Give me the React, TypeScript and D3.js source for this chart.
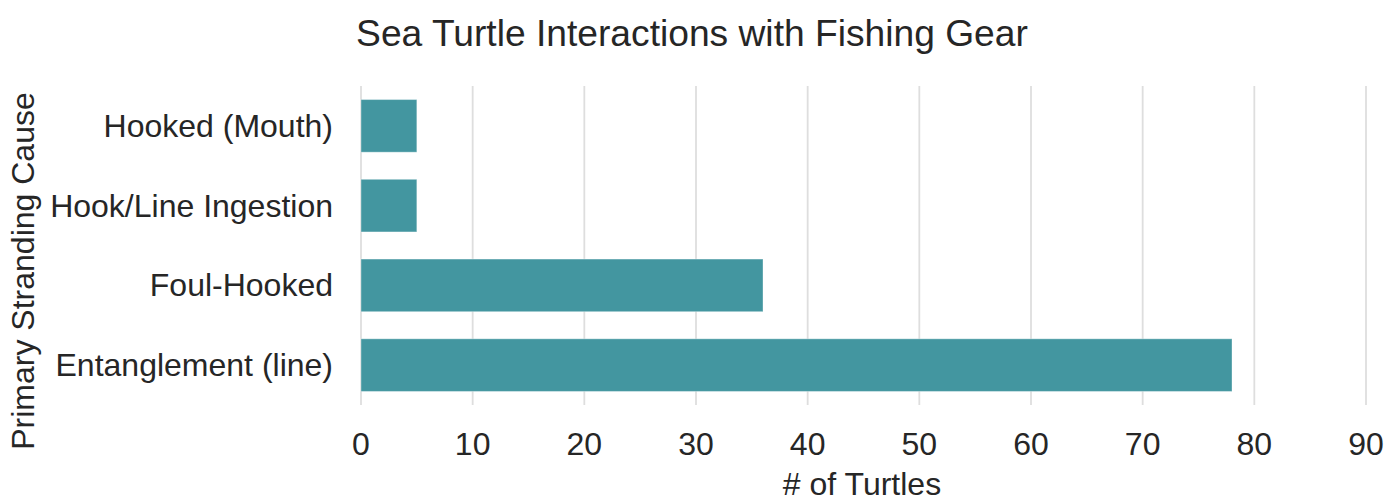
import React from "react";
import * as d3 from "d3";

const categories = ["Hooked (Mouth)", "Hook/Line Ingestion", "Foul-Hooked", "Entanglement (line)"];
const counts = [5, 5, 36, 78];
const xTicks = [0, 10, 20, 30, 40, 50, 60, 70, 80, 90];
const title = "Sea Turtle Interactions with Fishing Gear";
const xLabel = "# of Turtles";
const yLabel = "Primary Stranding Cause";

const W = 1400;
const H = 502;
const FONT = "Arial, 'Liberation Sans', sans-serif";
const TEXT = "#262626";

export default function App() {
  const x = d3.scaleLinear().domain([0, 90]).range([361, 1366]);
  const y = d3.scaleBand<string>().domain(categories).range([86, 405]).paddingInner(0.34).paddingOuter(0.17);

  return (
    <svg width={W} height={H} style={{ position: "absolute", left: 0, top: 0 }} fontFamily={FONT}>
      <rect x={0} y={0} width={W} height={H} fill="white" />
      {xTicks.map((t) => (
        <line key={"g" + t} x1={x(t)} x2={x(t)} y1={86} y2={405} stroke="#dedede" strokeWidth={1.8} />
      ))}
      {categories.map((c, i) => (
        <rect
          key={c}
          x={x(0)}
          y={y(c)!}
          width={x(counts[i]) - x(0)}
          height={y.bandwidth()}
          fill="#4396a0"
          stroke="#ffffff"
          strokeOpacity={0.35}
          strokeWidth={1}
        />
      ))}
      {categories.map((c) => (
        <text
          key={"l" + c}
          x={333}
          y={y(c)! + y.bandwidth() / 2}
          textAnchor="end"
          dominantBaseline="central"
          fontSize={32}
          fill={TEXT}
        >
          {c}
        </text>
      ))}
      {xTicks.map((t) => (
        <text key={"t" + t} x={x(t)} y={455} textAnchor="middle" fontSize={32} fill={TEXT}>
          {t}
        </text>
      ))}
      <text x={862} y={495} textAnchor="middle" fontSize={32} fill={TEXT}>
        {xLabel}
      </text>
      <text
        transform={`translate(34,271) rotate(-90)`}
        textAnchor="middle"
        fontSize={32}
        fill={TEXT}
      >
        {yLabel}
      </text>
      <text x={692} y={46} textAnchor="middle" fontSize={37.2} fill={TEXT}>
        {title}
      </text>
    </svg>
  );
}
